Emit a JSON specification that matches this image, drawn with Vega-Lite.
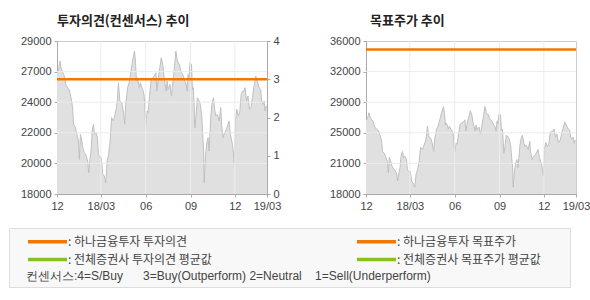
{
  "$schema": "https://vega.github.io/schema/vega-lite/v6.json",
  "autosize": {"type": "pad"},
  "padding": {"left": 8, "top": 14, "right": 0, "bottom": 0},
  "background": "white",
  "datasets": {
    "price": [
      {"date": "2017-12-01", "price": 26720}, {"date": "2017-12-04", "price": 26840}, {"date": "2017-12-07", "price": 27560}, {"date": "2017-12-09", "price": 27080},
      {"date": "2017-12-13", "price": 26720}, {"date": "2017-12-16", "price": 26480}, {"date": "2017-12-19", "price": 25880}, {"date": "2017-12-23", "price": 25600},
      {"date": "2017-12-26", "price": 25520}, {"date": "2017-12-29", "price": 25040}, {"date": "2017-12-31", "price": 24690}, {"date": "2018-01-02", "price": 24210},
      {"date": "2018-01-04", "price": 23010}, {"date": "2018-01-08", "price": 22770}, {"date": "2018-01-10", "price": 22410}, {"date": "2018-01-14", "price": 21810},
      {"date": "2018-01-16", "price": 20490}, {"date": "2018-01-18", "price": 22290}, {"date": "2018-01-21", "price": 21810}, {"date": "2018-01-23", "price": 21330},
      {"date": "2018-01-26", "price": 20970}, {"date": "2018-01-29", "price": 20850}, {"date": "2018-02-02", "price": 20370}, {"date": "2018-02-04", "price": 19530},
      {"date": "2018-02-07", "price": 20610}, {"date": "2018-02-09", "price": 21090}, {"date": "2018-02-11", "price": 22530}, {"date": "2018-02-14", "price": 23010},
      {"date": "2018-02-16", "price": 22290}, {"date": "2018-02-19", "price": 22410}, {"date": "2018-02-22", "price": 22050}, {"date": "2018-02-24", "price": 20850},
      {"date": "2018-02-27", "price": 20610}, {"date": "2018-03-02", "price": 20610}, {"date": "2018-03-05", "price": 19410}, {"date": "2018-03-08", "price": 19290},
      {"date": "2018-03-11", "price": 18810}, {"date": "2018-03-14", "price": 20370}, {"date": "2018-03-17", "price": 20850}, {"date": "2018-03-20", "price": 21810},
      {"date": "2018-03-23", "price": 23490}, {"date": "2018-03-27", "price": 23250}, {"date": "2018-03-30", "price": 23730}, {"date": "2018-04-02", "price": 24210},
      {"date": "2018-04-04", "price": 24800}, {"date": "2018-04-06", "price": 26000}, {"date": "2018-04-09", "price": 24690}, {"date": "2018-04-13", "price": 24560},
      {"date": "2018-04-16", "price": 23970}, {"date": "2018-04-19", "price": 23010}, {"date": "2018-04-21", "price": 24450}, {"date": "2018-04-25", "price": 25640},
      {"date": "2018-04-28", "price": 26000}, {"date": "2018-05-02", "price": 26840}, {"date": "2018-05-05", "price": 27560}, {"date": "2018-05-09", "price": 28280},
      {"date": "2018-05-11", "price": 27560}, {"date": "2018-05-13", "price": 26120}, {"date": "2018-05-15", "price": 26360}, {"date": "2018-05-19", "price": 25640},
      {"date": "2018-05-21", "price": 26000}, {"date": "2018-05-24", "price": 25640}, {"date": "2018-05-27", "price": 25400}, {"date": "2018-05-29", "price": 25040},
      {"date": "2018-06-01", "price": 22890}, {"date": "2018-06-04", "price": 23970}, {"date": "2018-06-06", "price": 23850}, {"date": "2018-06-08", "price": 24690},
      {"date": "2018-06-12", "price": 26120}, {"date": "2018-06-15", "price": 26360}, {"date": "2018-06-19", "price": 26480}, {"date": "2018-06-22", "price": 26720},
      {"date": "2018-06-24", "price": 25400}, {"date": "2018-06-27", "price": 26360}, {"date": "2018-06-30", "price": 27080}, {"date": "2018-07-03", "price": 27800},
      {"date": "2018-07-06", "price": 27320}, {"date": "2018-07-09", "price": 26360}, {"date": "2018-07-13", "price": 25400}, {"date": "2018-07-15", "price": 26120},
      {"date": "2018-07-17", "price": 25520}, {"date": "2018-07-21", "price": 25880}, {"date": "2018-07-24", "price": 25040}, {"date": "2018-07-27", "price": 26120},
      {"date": "2018-07-30", "price": 27080}, {"date": "2018-08-02", "price": 28280}, {"date": "2018-08-05", "price": 27560}, {"date": "2018-08-09", "price": 27320},
      {"date": "2018-08-12", "price": 26840}, {"date": "2018-08-16", "price": 26600}, {"date": "2018-08-19", "price": 26240}, {"date": "2018-08-23", "price": 25880},
      {"date": "2018-08-25", "price": 25400}, {"date": "2018-08-27", "price": 26600}, {"date": "2018-08-29", "price": 26240}, {"date": "2018-08-31", "price": 27440},
      {"date": "2018-09-03", "price": 27320}, {"date": "2018-09-05", "price": 25520}, {"date": "2018-09-07", "price": 25640}, {"date": "2018-09-10", "price": 22770},
      {"date": "2018-09-12", "price": 23490}, {"date": "2018-09-15", "price": 24920}, {"date": "2018-09-19", "price": 24690}, {"date": "2018-09-21", "price": 24450},
      {"date": "2018-09-24", "price": 23610}, {"date": "2018-09-26", "price": 22290}, {"date": "2018-09-28", "price": 21090}, {"date": "2018-09-29", "price": 18810},
      {"date": "2018-10-02", "price": 20850}, {"date": "2018-10-05", "price": 21810}, {"date": "2018-10-07", "price": 22050}, {"date": "2018-10-09", "price": 21090},
      {"date": "2018-10-13", "price": 23730}, {"date": "2018-10-15", "price": 24450}, {"date": "2018-10-18", "price": 24920}, {"date": "2018-10-21", "price": 23970},
      {"date": "2018-10-23", "price": 23610}, {"date": "2018-10-26", "price": 23730}, {"date": "2018-10-30", "price": 23250}, {"date": "2018-11-02", "price": 24210},
      {"date": "2018-11-04", "price": 22890}, {"date": "2018-11-07", "price": 22050}, {"date": "2018-11-10", "price": 22410}, {"date": "2018-11-14", "price": 22650},
      {"date": "2018-11-17", "price": 23010}, {"date": "2018-11-19", "price": 23250}, {"date": "2018-11-22", "price": 22290}, {"date": "2018-11-26", "price": 21570},
      {"date": "2018-11-28", "price": 20970}, {"date": "2018-11-30", "price": 20130}, {"date": "2018-12-02", "price": 23250}, {"date": "2018-12-05", "price": 24090},
      {"date": "2018-12-08", "price": 23610}, {"date": "2018-12-11", "price": 23850}, {"date": "2018-12-14", "price": 25160}, {"date": "2018-12-17", "price": 25400},
      {"date": "2018-12-20", "price": 25400}, {"date": "2018-12-22", "price": 25640}, {"date": "2018-12-25", "price": 24690}, {"date": "2018-12-28", "price": 25040},
      {"date": "2018-12-31", "price": 24090}, {"date": "2019-01-03", "price": 24210}, {"date": "2019-01-06", "price": 24920}, {"date": "2019-01-10", "price": 25880},
      {"date": "2019-01-13", "price": 26480}, {"date": "2019-01-16", "price": 26120}, {"date": "2019-01-20", "price": 25640}, {"date": "2019-01-23", "price": 25520},
      {"date": "2019-01-25", "price": 24690}, {"date": "2019-01-28", "price": 24450}, {"date": "2019-01-30", "price": 24690}, {"date": "2019-02-01", "price": 23970},
      {"date": "2019-02-03", "price": 24330}, {"date": "2019-02-05", "price": 24210}
    ],
    "vgrid": [{"date": "2018-03-01"}, {"date": "2018-06-01"}, {"date": "2018-09-01"}, {"date": "2018-12-01"}],
    "opinion": [
      {"date": "2017-12-01", "opinion": 3, "series": "하나금융투자 투자의견"},
      {"date": "2019-02-05", "opinion": 3, "series": "하나금융투자 투자의견"}
    ],
    "target": [
      {"date": "2017-12-01", "target": 35000},
      {"date": "2019-02-05", "target": 35000}
    ]
  },
  "hconcat": [
    {
      "width": 210,
      "height": 153,
      "title": {"text": "투자의견(컨센서스) 추이", "anchor": "start", "frame": "group", "dx": 0, "fontSize": 13, "fontWeight": "bold", "color": "#222222", "offset": 7, "font": "Noto Sans CJK KR"},
      "layer": [
        {
          "layer": [
            {
              "data": {"name": "price"},
              "mark": {"type": "area", "color": "#e0e0e0", "opacity": 1, "line": {"color": "#c0c0c0", "strokeWidth": 1}, "clip": true},
              "encoding": {
                "x": {"field": "date", "type": "temporal",
                  "scale": {"domain": [{"year": 2017, "month": 12, "date": 1}, {"year": 2019, "month": 2, "date": 5}]},
                  "axis": {"values": [{"year": 2017, "month": 12, "date": 1}, {"year": 2018, "month": 3, "date": 1}, {"year": 2018, "month": 6, "date": 1}, {"year": 2018, "month": 9, "date": 1}, {"year": 2018, "month": 12, "date": 1}, {"year": 2019, "month": 2, "date": 5}],
                    "labelExpr": "year(datum.value) == 2019 ? '19/03' : (month(datum.value) == 2 ? '18/03' : timeFormat(datum.value, '%m'))",
                    "tickCount": 8, "grid": false, "labelFlush": false, "labelOverlap": false, "title": null}},
                "y": {"field": "price", "type": "quantitative",
                  "scale": {"domain": [18000, 29000], "nice": false, "zero": false},
                  "axis": {"values": [18000, 20200, 22400, 24600, 26800, 29000], "tickCount": 8,
                    "labelExpr": "datum.value == 20200 ? '20000' : datum.value == 22400 ? '22000' : datum.value == 24600 ? '24000' : datum.value == 26800 ? '27000' : datum.label",
                    "format": "d", "grid": false, "labelOverlap": false, "title": null}}
              }
            },
            {
              "data": {"name": "vgrid"},
              "mark": {"type": "rule", "color": "#ececec", "strokeWidth": 1},
              "encoding": {"x": {"field": "date", "type": "temporal"}}
            },
            {
              "data": {"values": [{"v": 20200}, {"v": 22400}, {"v": 24600}, {"v": 26800}]},
              "mark": {"type": "rule", "color": "#ececec", "strokeWidth": 1},
              "encoding": {"y": {"field": "v", "type": "quantitative", "scale": {"domain": [18000, 29000], "nice": false, "zero": false}}}
            }
          ]
        },
        {
          "data": {"name": "opinion"},
          "mark": {"type": "line", "strokeWidth": 2.5},
          "encoding": {
            "x": {"field": "date", "type": "temporal"},
            "y": {"field": "opinion", "type": "quantitative",
              "scale": {"domain": [0, 4], "nice": false, "zero": true},
              "axis": {"orient": "right", "values": [0, 1, 2, 3, 4], "tickCount": 8, "format": "d", "grid": false, "labelOverlap": false, "title": null}},
            "color": {"field": "series", "type": "nominal",
              "scale": {"domain": ["하나금융투자 투자의견", "하나금융투자 목표주가", "전체증권사 투자의견 평균값", "전체증권사 목표주가 평균값"],
                "range": ["#f07800", "#f07800", "#88c218", "#88c218"]},
              "legend": {
                "orient": "none", "legendX": -48, "legendY": 187, "direction": "horizontal", "columns": 2, "columnPadding": 107, "rowPadding": 2,
                "symbolType": "M-3,0H3", "symbolSize": 169, "symbolStrokeWidth": 3.5, "symbolOffset": 25,
                "labelFont": "Noto Sans CJK KR", "labelFontSize": 12, "labelColor": "#444444", "labelOffset": 12, "labelLimit": 400,
                "labelExpr": "': ' + datum.label + '\u2003\u2003\u200b'",
                "fillColor": "#f8f8f8", "strokeColor": "#dddddd", "padding": 5,
                "title": "\u200b\u2003컨센서스:4=S/Buy\u00a0\u00a0\u00a0\u00a0\u00a0 3=Buy(Outperform) 2=Neutral\u00a0\u00a0\u00a0 1=Sell(Underperform)",
                "titleOrient": "bottom", "titleAnchor": "start", "titleFont": "Liberation Sans", "titleFontSize": 12, "titleFontWeight": "normal", "titleColor": "#444444", "titlePadding": 4, "titleLimit": 600
              }}
          }
        }
      ],
      "resolve": {"scale": {"y": "independent"}}
    },
    {
      "width": 210,
      "height": 153,
      "title": {"text": "목표주가 추이", "anchor": "start", "frame": "group", "dx": 4, "fontSize": 13, "fontWeight": "bold", "color": "#222222", "offset": 7, "font": "Noto Sans CJK KR"},
      "layer": [
        {
          "data": {"name": "price"},
          "mark": {"type": "area", "color": "#e0e0e0", "opacity": 1, "line": {"color": "#c0c0c0", "strokeWidth": 1}, "clip": true},
          "encoding": {
            "x": {"field": "date", "type": "temporal",
              "scale": {"domain": [{"year": 2017, "month": 12, "date": 1}, {"year": 2019, "month": 2, "date": 5}]},
              "axis": {"values": [{"year": 2017, "month": 12, "date": 1}, {"year": 2018, "month": 3, "date": 1}, {"year": 2018, "month": 6, "date": 1}, {"year": 2018, "month": 9, "date": 1}, {"year": 2018, "month": 12, "date": 1}, {"year": 2019, "month": 2, "date": 5}],
                "labelExpr": "year(datum.value) == 2019 ? '19/03' : (month(datum.value) == 2 ? '18/03' : timeFormat(datum.value, '%m'))",
                "tickCount": 8, "grid": false, "labelFlush": false, "labelOverlap": false, "title": null}},
            "y": {"field": "price", "type": "quantitative",
              "scale": {"domain": [18000, 36000], "nice": false, "zero": false},
              "axis": {"values": [18000, 21600, 25200, 28800, 32400, 36000], "tickCount": 8,
                "labelExpr": "datum.value == 21600 ? '21000' : datum.value == 25200 ? '25000' : datum.value == 28800 ? '29000' : datum.value == 32400 ? '32000' : datum.label",
                "format": "d", "grid": false, "labelOverlap": false, "title": null}}
          }
        },
        {
          "data": {"name": "vgrid"},
          "mark": {"type": "rule", "color": "#ececec", "strokeWidth": 1},
          "encoding": {"x": {"field": "date", "type": "temporal"}}
        },
        {
          "data": {"values": [{"v": 21600}, {"v": 25200}, {"v": 28800}, {"v": 32400}]},
          "mark": {"type": "rule", "color": "#ececec", "strokeWidth": 1},
          "encoding": {"y": {"field": "v", "type": "quantitative"}}
        },
        {
          "data": {"name": "target"},
          "mark": {"type": "line", "strokeWidth": 2.5, "color": "#f07800"},
          "encoding": {
            "x": {"field": "date", "type": "temporal"},
            "y": {"field": "target", "type": "quantitative"}
          }
        }
      ]
    }
  ],
  "spacing": 99,
  "bounds": "flush",
  "config": {
    "font": "Noto Sans CJK KR",
    "view": {"stroke": "#cccccc"},
    "axis": {"labelFont": "Liberation Sans", "labelFontSize": 11, "labelColor": "#444444", "domainColor": "#aaaaaa", "tickColor": "#aaaaaa", "tickSize": 3, "labelPadding": 3, "labelOverlap": false}
  }
}
